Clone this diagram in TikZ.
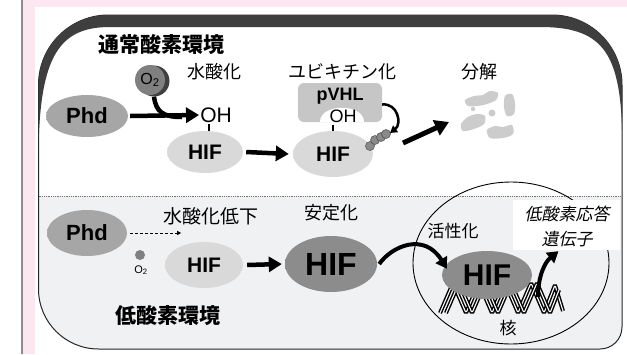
\documentclass[tikz,border=0pt]{standalone}
\usepackage{fontspec}
\setmainfont{Liberation Sans}
\newfontfamily\jp{Noto Sans CJK JP}
\newfontfamily\jpslant[FakeSlant=0.2]{Noto Sans CJK JP}
\usetikzlibrary{arrows.meta,shapes.geometric}

\definecolor{pinkbg}{HTML}{FCE6EF}
\definecolor{edgegray}{HTML}{8C8C8C}
\definecolor{lowfill}{HTML}{F0F1F3}
\definecolor{crest}{HTML}{3E3E3E}
\definecolor{boxgray}{HTML}{C6C6C6}
\definecolor{fraggray}{HTML}{CCCCCC}
\definecolor{ubgray}{HTML}{8A8A8A}

% raised-disc shadings: flat face, darker rim toward the lower right
\pgfdeclareradialshading{discLight}{\pgfpoint{-7bp}{7bp}}{rgb(0bp)=(0.85,0.85,0.85);rgb(37bp)=(0.85,0.85,0.85);rgb(53bp)=(0.50,0.50,0.50);rgb(80bp)=(0.50,0.50,0.50)}
\pgfdeclareradialshading{discMid}{\pgfpoint{-7bp}{7bp}}{rgb(0bp)=(0.65,0.65,0.65);rgb(37bp)=(0.65,0.65,0.65);rgb(53bp)=(0.36,0.36,0.36);rgb(80bp)=(0.36,0.36,0.36)}
\pgfdeclareradialshading{discDark}{\pgfpoint{-7bp}{7bp}}{rgb(0bp)=(0.55,0.55,0.55);rgb(37bp)=(0.55,0.55,0.55);rgb(53bp)=(0.30,0.30,0.30);rgb(80bp)=(0.30,0.30,0.30)}
\pgfdeclareradialshading{coin}{\pgfpoint{-6bp}{6bp}}{rgb(0bp)=(0.50,0.50,0.50);rgb(30bp)=(0.50,0.50,0.50);rgb(52bp)=(0.25,0.25,0.25);rgb(80bp)=(0.25,0.25,0.25)}

\begin{document}
\begin{tikzpicture}[x=1pt,y=-1pt,
  disc/.style={ellipse, inner sep=0pt, shading=#1},
  latinb/.style={font=\fontsize{#1}{#1}\selectfont\bfseries},
  latin/.style={font=\fontsize{#1}{#1}\selectfont, inner sep=0pt},
  jplabel/.style={font=\fontsize{#1}{#1}\selectfont\jp, inner sep=0pt},
  jptitle/.style={font=\fontsize{21}{21}\selectfont\jp\bfseries, inner sep=0pt},
  fat/.style={line width=4.5pt, -{Triangle[length=13pt,width=15pt]}},
  curvy/.style={line width=4pt, -{Triangle[length=11pt,width=13pt]}},
  stick/.style={line width=1.2pt},
  ubq/.style={circle, fill=ubgray, draw=black!70, line width=0.5pt, minimum size=9pt, inner sep=0pt},
  frag/.style={fill=fraggray},
  dnaout/.style={line width=4pt, black, rounded corners=1.5pt},
  dnain/.style={line width=1.1pt, white, rounded corners=1.5pt},
]
\useasboundingbox (0,0) rectangle (627,354);

% page background with the pink margin strips
\fill[white] (0,0) rectangle (627,354);
\fill[pinkbg] (22,0) rectangle (627,7);
\fill[pinkbg] (22,0) rectangle (35,354);
\draw[edgegray, line width=2pt] (22,0) -- (22,354);

% lower (hypoxic) half of the panel
\begin{scope}
  \clip (38.5,85) .. controls (38.5,46.3) and (69.8,15) .. (108.5,15) -- (552,15)
        .. controls (590.7,15) and (622,46.3) .. (622,85) -- (622,327)
        .. controls (622,339.2) and (612.2,349) .. (600,349) -- (98.5,349)
        .. controls (65.4,349) and (38.5,322.1) .. (38.5,289) -- cycle;
  \fill[lowfill] (30,196) rectangle (630,360);
\end{scope}

% panel outline
\draw[line width=1pt, black!85] (38.5,85) .. controls (38.5,46.3) and (69.8,15) .. (108.5,15) -- (552,15)
        .. controls (590.7,15) and (622,46.3) .. (622,85) -- (622,327)
        .. controls (622,339.2) and (612.2,349) .. (600,349) -- (98.5,349)
        .. controls (65.4,349) and (38.5,322.1) .. (38.5,289) -- cycle;

% heavy crest along the top of the panel
\fill[crest] (38.5,150) -- (38.5,85) .. controls (38.5,46.3) and (69.8,15) .. (108.5,15) -- (552,15)
        .. controls (590.7,15) and (622,46.3) .. (622,85) -- (622,130)
        .. controls (620,50) and (600,27) .. (540,27) -- (110,27)
        .. controls (60,27) and (40,55) .. (38.5,150) -- cycle;

% divider between the two conditions
\draw[densely dotted, black!55, line width=0.8pt] (38.5,196) -- (622,196);

% ---------------- normoxia ----------------
\node[jptitle, anchor=west] (titleA) at (98,45) {通常酸素環境};
\node[jplabel=18] (lblHyd) at (214,72) {水酸化};
\node[jplabel=18] (lblUb) at (342,72) {ユビキチン化};
\node[jplabel=18] (lblDeg) at (479,72) {分解};

\node[circle, fill=black!75, minimum size=31pt, inner sep=0pt] (o2rim) at (154,81) {};
\node[circle, shading=coin, minimum size=30pt, inner sep=0pt, latin=16] (o2a) at (150,80) {O\textsubscript{2}};

\node[disc=discMid, minimum width=82pt, minimum height=42pt, latinb=22] (phdA) at (87,116) {Phd};
\node[latin=21] (ohA) at (216,115) {OH};
\node[disc=discLight, minimum width=76pt, minimum height=42pt, latinb=21] (hifA) at (205,152) {HIF};
\draw[stick] (209,124) -- (hifA.north -| 209,0);

\draw[line width=4.5pt] (o2rim.south) .. controls (156,112) and (163,117) .. (182,117);
\draw[fat] ([xshift=2pt]phdA.east) -- ([xshift=-1pt]ohA.west);

\node[disc=discLight, minimum width=80pt, minimum height=46pt, latinb=21] (hifB) at (333,154) {HIF};
\draw[fat] ([xshift=3pt]hifA.east) -- ([xshift=-4pt]hifB.west);

\node[fill=boxgray, rounded corners=6pt, minimum width=84pt, minimum height=39pt, inner sep=0pt] (vhl) at (340,102.5) {};
\fill[white] (320,122) .. controls (320,103.3) and (364,103.3) .. (364,122) -- cycle;
\node[latinb=18, inner sep=0pt] (vhlText) at (340,96) {pVHL};
\node[latin=18] (ohB) at (343,116) {OH};
\draw[stick] (333,124.5) -- (hifB.north -| 333,0);

\node[ubq] (ub1) at (370,146) {};
\node[ubq] (ub2) at (375,140) {};
\node[ubq] (ub3) at (381,137) {};
\node[ubq] (ub4) at (386,134) {};

\draw[line width=2.5pt, -{Triangle[length=7pt,width=8pt]}] ([yshift=-2pt]vhl.east) .. controls (398,103) and (402,124) .. (390,133);

\coordinate (degTip) at (449,122);
\draw[line width=5pt, -{Triangle[length=14pt,width=16pt]}] (403,143) -- (degTip);

% fragments of the degraded protein
\fill[frag] plot[smooth cycle] coordinates {(465,100) (474,96) (483,95) (490,91) (498,93) (496,100) (487,104) (478,106) (468,106)};
\fill[frag] plot[smooth cycle] coordinates {(505,96) (512,94) (515,103) (514,114) (507,116) (504,107)};
\fill[frag] (492,113) circle (3.5);
\fill[frag] plot[smooth cycle] coordinates {(461,124) (468,117) (477,114) (485,116) (484,124) (474,129) (463,131)};
\fill[frag] plot[smooth cycle] coordinates {(487,130) (495,126) (503,127) (512,125) (513,134) (503,138) (490,138)};
\fill[frag] (473,109) circle (2.2);

% ---------------- hypoxia ----------------
\node[disc=discMid, minimum width=80pt, minimum height=46pt, latinb=22] (phdB) at (87,233) {Phd};
\node[jplabel=19] (lblLow) at (211,216) {水酸化低下};
\draw[densely dashed, line width=0.8pt, -{Triangle[length=4pt,width=4pt]}] ([xshift=3pt]phdB.east) -- ++(51,0);

\node[circle, shading=coin, minimum size=10pt, inner sep=0pt] (o2b) at (140,255) {};
\node[latin=11] (o2bl) at (141,270) {O\textsubscript{2}};

\node[disc=discLight, minimum width=78pt, minimum height=46pt, latinb=21] (hifC) at (204,265) {HIF};
\node[jplabel=18] (lblStab) at (331,213) {安定化};
\node[disc=discDark, minimum width=92pt, minimum height=56pt, latinb=32] (hifD) at (331,264) {HIF};
\draw[fat] ([xshift=4pt]hifC.east) -- ([xshift=-3pt]hifD.west);

\node[jptitle] (titleB) at (168,316) {低酸素環境};

% nucleus
\node[ellipse, draw, line width=0.9pt, minimum width=196pt, minimum height=162pt, inner sep=0pt] (nuc) at (511,263) {};
\node[fill=white, minimum width=107pt, minimum height=50pt, inner sep=0pt] (genebox) at (566.5,225) {};
\node[font=\fontsize{17}{17}\selectfont\jpslant, inner sep=0pt] (gene1) at (567,214) {低酸素応答};
\node[font=\fontsize{17}{17}\selectfont\jpslant, inner sep=0pt] (gene2) at (567,239) {遺伝子};
\node[jplabel=17] (lblAct) at (453,231) {活性化};
\node[jplabel=17] (lblNuc) at (508,328) {核};

% DNA strands
\draw[dnaout] (440,313) -- (453,283) -- (466,313) -- (479,283) -- (492,313) -- (505,283) -- (518,313) -- (531,283) -- (544,313) -- (555,285) -- (563,311);
\draw[dnain] (440,313) -- (453,283) -- (466,313) -- (479,283) -- (492,313) -- (505,283) -- (518,313) -- (531,283) -- (544,313) -- (555,285) -- (563,311);
\draw[dnaout] (446,313) -- (459,283) -- (472,313) -- (485,283) -- (498,313) -- (511,283) -- (524,313) -- (537,283) -- (550,313) -- (559,290);
\draw[dnain] (446,313) -- (459,283) -- (472,313) -- (485,283) -- (498,313) -- (511,283) -- (524,313) -- (537,283) -- (550,313) -- (559,290);

\node[disc=discDark, minimum width=90pt, minimum height=48pt, latinb=30] (hifE) at (487,275) {HIF};

\draw[curvy] ([xshift=2pt]hifD.east) .. controls (392,246) and (424,232) .. ([shift={(-40pt,-18pt)}]hifE.north);
\draw[curvy] (538,297) .. controls (538,276) and (545,262) .. ([shift={(-8pt,-1pt)}]genebox.south);
\end{tikzpicture}
\end{document}
